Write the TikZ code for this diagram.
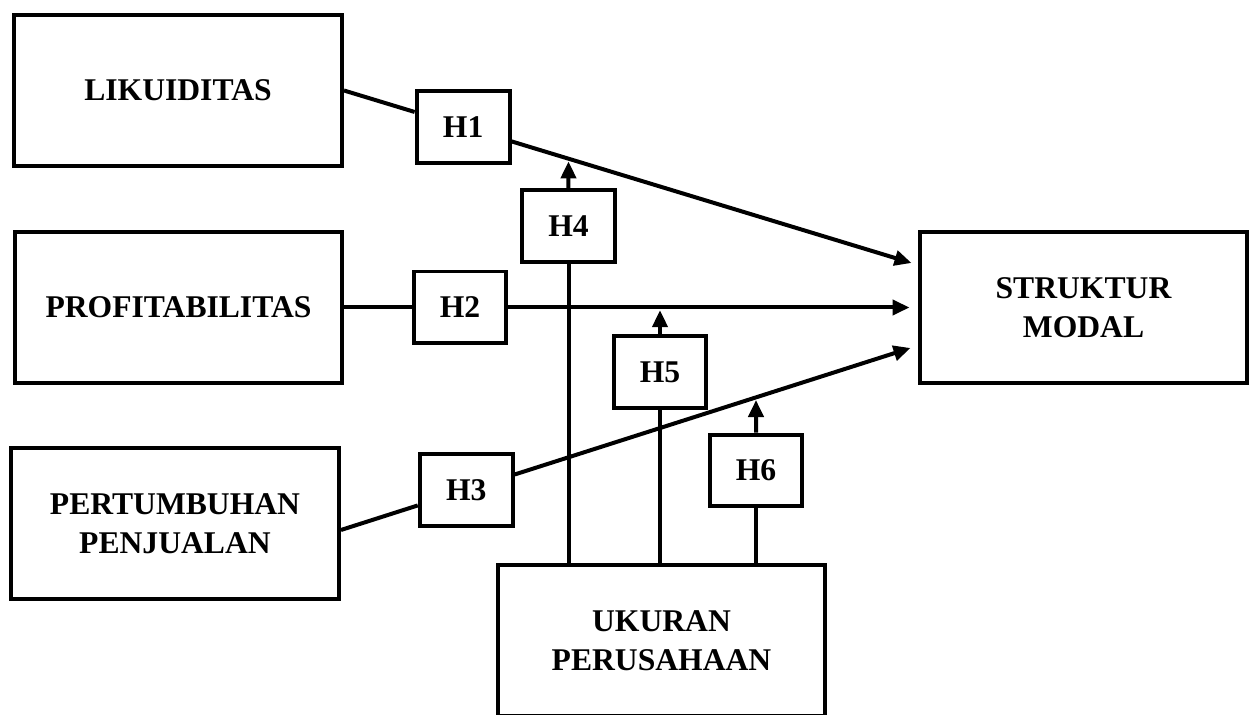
\documentclass[tikz,border=0pt]{standalone}
\usepackage{fontspec}
\setmainfont{Liberation Serif}
\usetikzlibrary{arrows.meta, calc}

\begin{document}
\begin{tikzpicture}[x=0.02cm, y=-0.02cm,
  varbox/.style={draw, line width=0.08cm, minimum width=6.56cm, minimum height=3.02cm, align=center, font=\fontsize{18}{22}\selectfont\bfseries},
  hbox/.style={draw, line width=0.08cm, minimum width=1.86cm, minimum height=1.44cm, font=\fontsize{18}{22}\selectfont\bfseries},
  link/.style={line width=0.08cm},
  arr/.style={link, -{Triangle[length=0.34cm, width=0.3cm]}}]
\useasboundingbox (0,0) rectangle (1259,715);

% variables
\node[varbox] (lik) at (178,90.5) {LIKUIDITAS};
\node[varbox] (prof) at (178.5,307.5) {PROFITABILITAS};
\node[varbox] (pert) at (175,523.5) {PERTUMBUHAN\\PENJUALAN};
\node[varbox] (str) at (1083.5,307.5) {STRUKTUR\\MODAL};
\node[varbox] (uk) at (661.5,640.5) {UKURAN\\PERUSAHAAN};

% end points of the paths
\coordinate (s1) at (lik.east);
\coordinate (s3) at ($(pert.east)+(0,6.5)$);
\coordinate (t1) at ($(str.west)+(-6,-44.5)$);
\coordinate (t2) at ($(str.west)+(-8,0)$);
\coordinate (t3) at ($(str.west)+(-7,40.5)$);

% hypotheses
\node[hbox] (h1) at ($(s1)!0.21!(t1)$) {H1};
\node[hbox] (h2) at (460,307.5) {H2};
\node[hbox] (h3) at ($(s3)!0.22!(t3)$) {H3};
\node[hbox] (h4) at (568.5,226.5) {H4};
\node[hbox] (h5) at (660,372) {H5};
\node[hbox] (h6) at (756,470.5) {H6};

% direct paths
\draw[link] (s1) -- (h1);
\draw[arr] (h1) -- (t1);
\draw[link] (prof) -- (h2);
\draw[arr] (h2) -- (t2);
\draw[link] (s3) -- (h3);
\draw[arr] (h3) -- (t3);

% moderation by UKURAN PERUSAHAAN
\coordinate (m4) at (intersection of s1--t1 and h4.north--h4.south);
\coordinate (m6) at (intersection of s3--t3 and h6.north--h6.south);
\draw[link] (uk.north -| h4) -- (h4);
\draw[arr, shorten >=1.5] (h4) -- (m4);
\draw[link] (uk.north -| h5) -- (h5);
\draw[arr, shorten >=1.5] (h5) -- (h5 |- h2);
\draw[link] (uk.north -| h6) -- (h6);
\draw[arr, shorten >=1.5] (h6) -- (m6);
\end{tikzpicture}
\end{document}
